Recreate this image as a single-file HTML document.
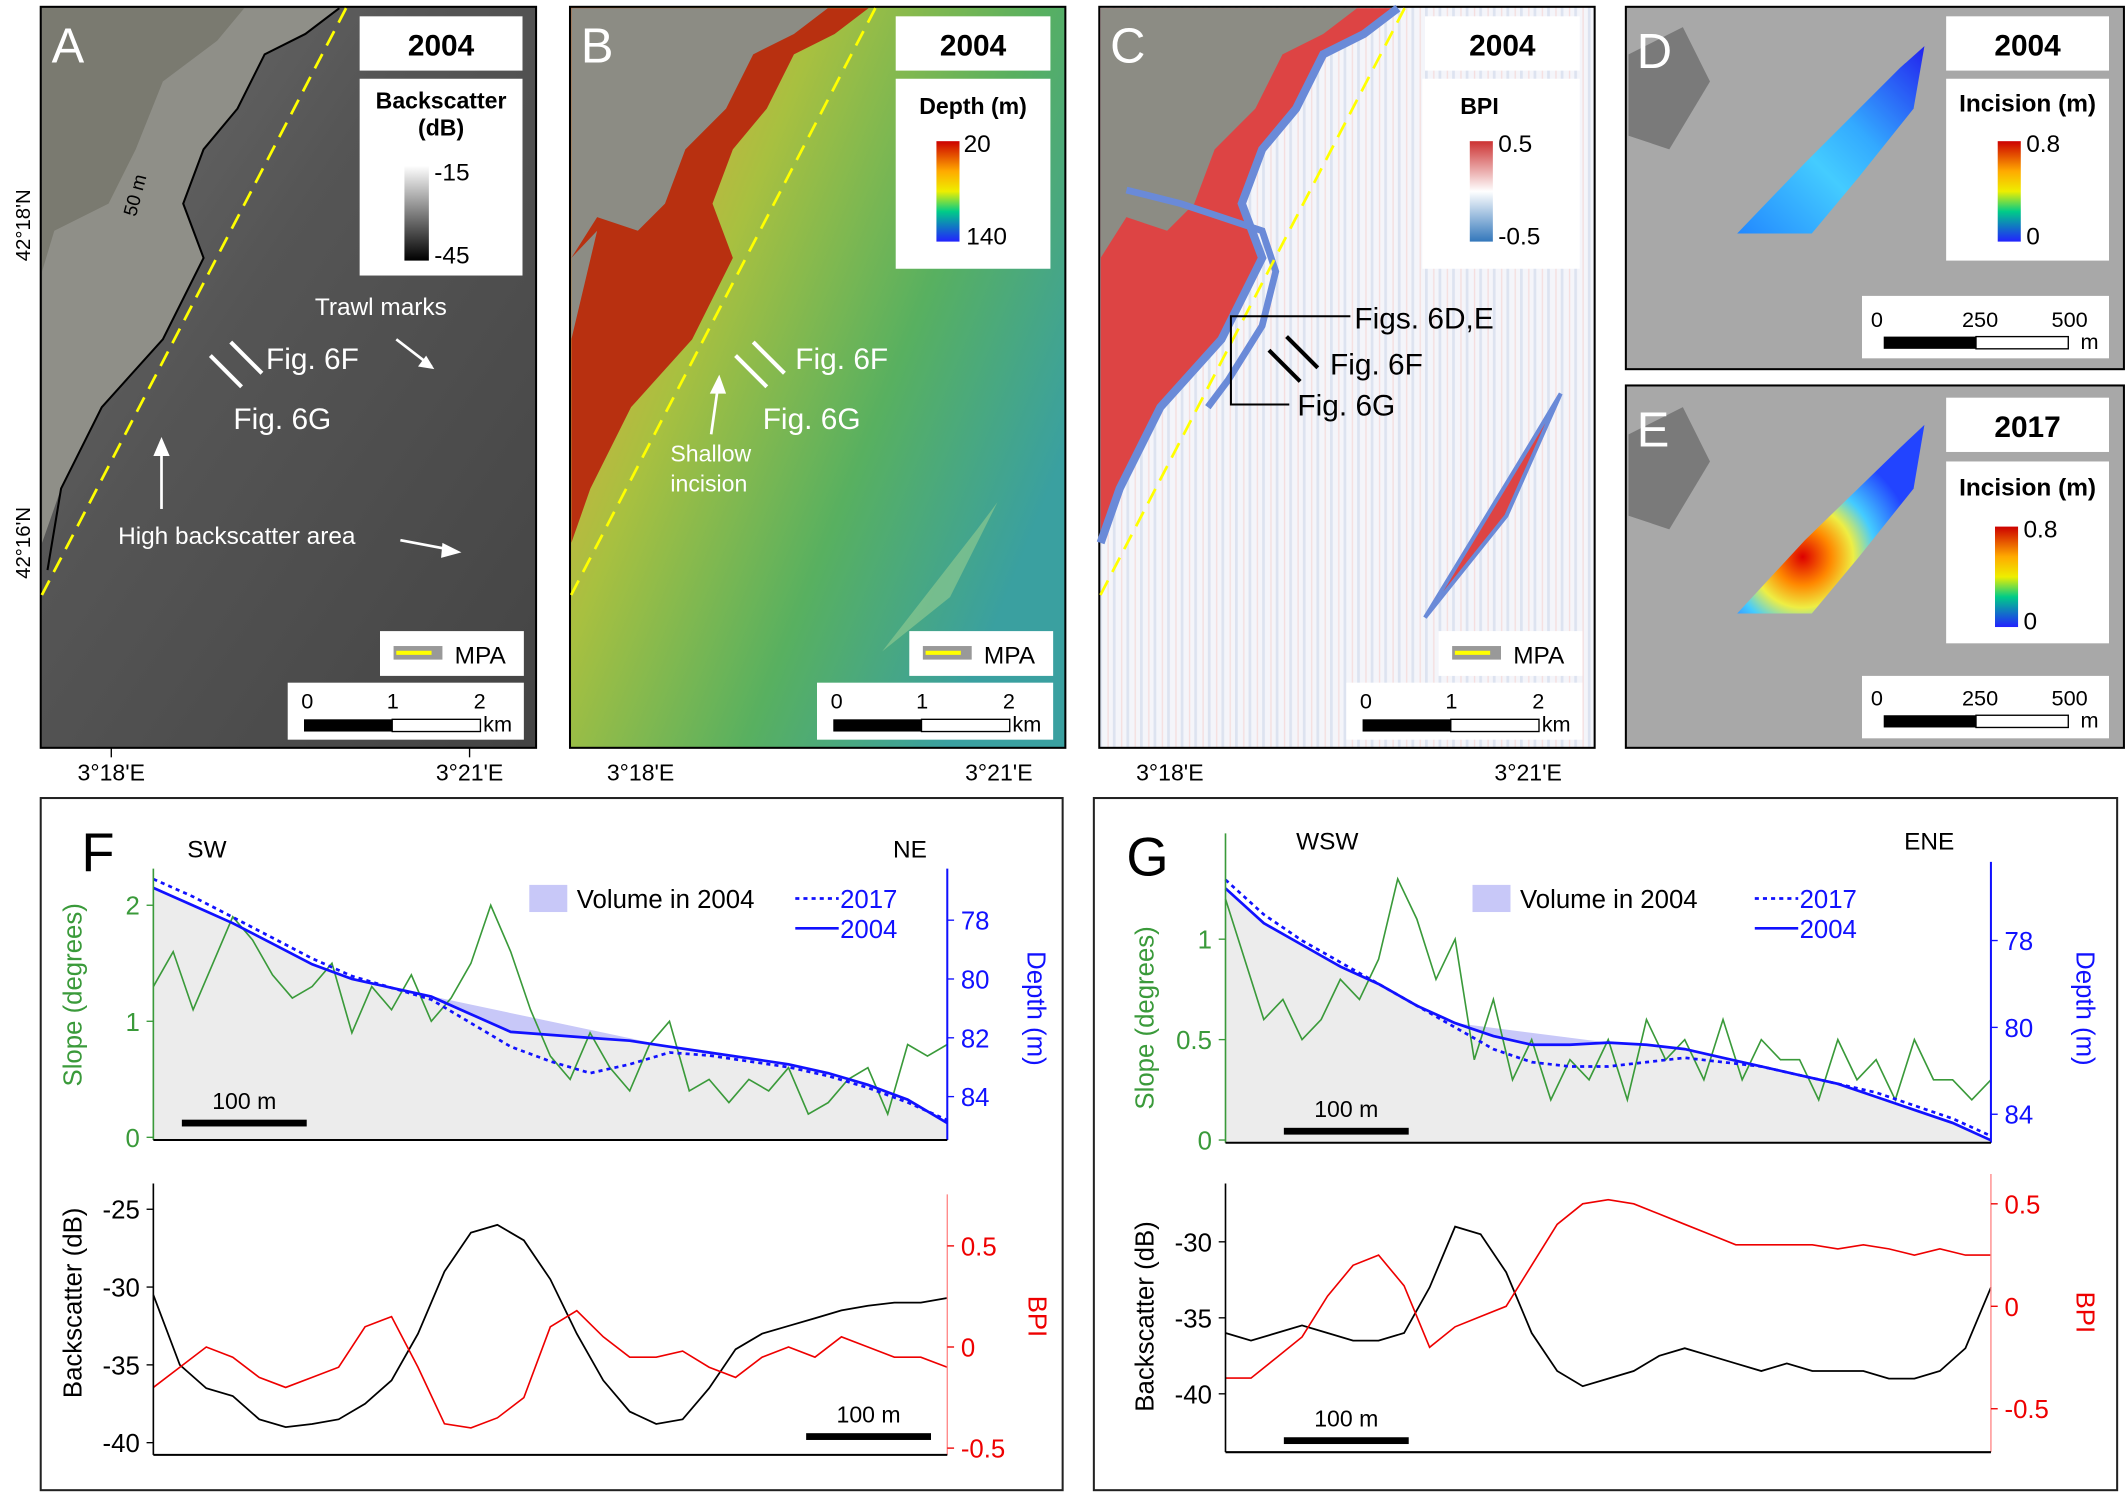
<!DOCTYPE html>
<html><head><meta charset="utf-8"><style>
html,body{margin:0;padding:0;background:#fff;}
svg{display:block;font-family:"Liberation Sans",sans-serif;}
</style></head><body>
<svg id="fig" width="2128" height="1497" viewBox="0 0 1568 1103" xmlns="http://www.w3.org/2000/svg">
<defs>
<linearGradient id="gA" x1="0" y1="0" x2="1" y2="1"><stop offset="0" stop-color="#6e6e6e"/><stop offset="0.4" stop-color="#555"/><stop offset="1" stop-color="#444"/></linearGradient>
<linearGradient id="gB" x1="0" y1="0" x2="1" y2="0.6"><stop offset="0" stop-color="#d07020"/><stop offset="0.2" stop-color="#d0b040"/><stop offset="0.38" stop-color="#a8c040"/><stop offset="0.7" stop-color="#58b060"/><stop offset="1" stop-color="#3aa0a0"/></linearGradient>
<linearGradient id="gBar" x1="0" y1="0" x2="0" y2="1"><stop offset="0" stop-color="#c00"/><stop offset="0.3" stop-color="#fa0"/><stop offset="0.5" stop-color="#ee0"/><stop offset="0.7" stop-color="#0c8"/><stop offset="1" stop-color="#22f"/></linearGradient>
<linearGradient id="gBw" x1="0" y1="0" x2="0" y2="1"><stop offset="0" stop-color="#fff"/><stop offset="1" stop-color="#000"/></linearGradient>
<linearGradient id="gBpi" x1="0" y1="0" x2="0" y2="1"><stop offset="0" stop-color="#c33"/><stop offset="0.5" stop-color="#fff"/><stop offset="1" stop-color="#37b"/></linearGradient>
<linearGradient id="gInc1" x1="0" y1="1" x2="1" y2="0"><stop offset="0" stop-color="#28f"/><stop offset="0.4" stop-color="#4cf"/><stop offset="0.6" stop-color="#3af"/><stop offset="1" stop-color="#22e"/></linearGradient>
<radialGradient id="gInc2" cx="0.35" cy="0.7" r="0.6"><stop offset="0" stop-color="#d00"/><stop offset="0.25" stop-color="#f80"/><stop offset="0.45" stop-color="#ee4"/><stop offset="0.65" stop-color="#4cf"/><stop offset="1" stop-color="#24f"/></radialGradient>
<pattern id="stripes" width="10" height="20" patternUnits="userSpaceOnUse"><rect width="10" height="20" fill="#f4f5fa"/><rect x="0" width="2" height="20" fill="#dde3f0"/><rect x="6" width="1" height="20" fill="#f5dede"/></pattern>
</defs>

<!-- Panel A -->
<g>
<rect x="30" y="5" width="365" height="546" fill="url(#gA)" stroke="#000" stroke-width="1.5"/>
<path d="M31,6 L250,6 L225,25 L195,40 L175,80 L150,110 L135,150 L150,190 L120,250 L75,300 L45,360 L31,400 Z" fill="#8f8f88"/>
<path d="M31,6 L180,6 L160,30 L120,60 L100,110 L80,150 L40,170 L31,200 Z" fill="#7a7a70"/>
<path d="M250,6 L225,25 L195,40 L175,80 L150,110 L135,150 L150,190 L120,250 L75,300 L45,360 L35,420" fill="none" stroke="#000" stroke-width="1.5"/>
<line x1="255" y1="6" x2="30" y2="440" stroke="#ff0" stroke-width="2" stroke-dasharray="12,7"/>
<text x="38" y="46" font-size="36" fill="#fff">A</text>
<rect x="265" y="12" width="120" height="40" fill="#fff"/><text x="325" y="41" font-size="22" font-weight="bold" text-anchor="middle">2004</text>
<rect x="265" y="58" width="120" height="145" fill="#fff"/>
<text x="325" y="80" font-size="17" font-weight="bold" text-anchor="middle">Backscatter</text><text x="325" y="100" font-size="17" font-weight="bold" text-anchor="middle">(dB)</text>
<rect x="298" y="122" width="18" height="70" fill="url(#gBw)"/><text x="320" y="133" font-size="18">-15</text><text x="320" y="194" font-size="18">-45</text>
<text x="232" y="232" font-size="18" fill="#fff">Trawl marks</text>
<line x1="292" y1="250" x2="318" y2="270" stroke="#fff" stroke-width="2"/><path d="M320,272 L308,270 L314,262 Z" fill="#fff"/>
<text x="196" y="272" font-size="22" fill="#fff">Fig. 6F</text><text x="172" y="316" font-size="22" fill="#fff">Fig. 6G</text>
<line x1="155" y1="262" x2="178" y2="285" stroke="#fff" stroke-width="3"/><line x1="170" y1="252" x2="193" y2="275" stroke="#fff" stroke-width="3"/>
<line x1="119" y1="375" x2="119" y2="330" stroke="#fff" stroke-width="2"/><path d="M119,322 L113,336 L125,336 Z" fill="#fff"/>
<text x="87" y="401" font-size="18" fill="#fff">High backscatter area</text>
<line x1="295" y1="398" x2="332" y2="405" stroke="#fff" stroke-width="2"/><path d="M340,407 L326,400 L325,411 Z" fill="#fff"/>
<text x="100" y="160" font-size="14" fill="#000" transform="rotate(-75 100 160)">50 m</text>
<rect x="280" y="465" width="106" height="33" fill="#fff"/><rect x="290" y="476" width="36" height="10" fill="#999"/><line x1="292" y1="481" x2="318" y2="481" stroke="#ff0" stroke-width="3"/><text x="335" y="489" font-size="18">MPA</text>
<rect x="212" y="503" width="174" height="42" fill="#fff"/><text x="222" y="522" font-size="16">0</text><text x="285" y="522" font-size="16">1</text><text x="349" y="522" font-size="16">2</text>
<rect x="224" y="530" width="65" height="9" fill="#000"/><rect x="289" y="530" width="65" height="9" fill="#fff" stroke="#000"/><text x="356" y="539" font-size="16">km</text>
<text x="82" y="575" font-size="17" text-anchor="middle">3°18'E</text><text x="346" y="575" font-size="17" text-anchor="middle">3°21'E</text>
<line x1="82" y1="551" x2="82" y2="558" stroke="#000"/><line x1="346" y1="551" x2="346" y2="558" stroke="#000"/>
<text x="22" y="178" font-size="15" text-anchor="middle" transform="rotate(-90 16 172)">42°18'N</text>
<text x="22" y="412" font-size="15" text-anchor="middle" transform="rotate(-90 16 406)">42°16'N</text>
</g>

<!-- Panel B -->
<g>
<rect x="420" y="5" width="365" height="546" fill="url(#gB)" stroke="#000" stroke-width="1.5"/>
<path d="M421,6 L640,6 L615,25 L585,40 L565,80 L540,110 L525,150 L540,190 L510,250 L465,300 L435,360 L421,400 Z" fill="#b83010"/>
<path d="M421,6 L610,6 L585,25 L555,40 L535,80 L505,110 L490,150 L470,170 L440,160 L421,190 Z" fill="#8c8c84"/>
<path d="M421,190 L440,170 L421,250 Z" fill="#8c8c84"/>
<line x1="645" y1="6" x2="420" y2="440" stroke="#ff0" stroke-width="2" stroke-dasharray="12,7"/>
<text x="428" y="46" font-size="36" fill="#fff">B</text>
<rect x="660" y="12" width="114" height="40" fill="#fff"/><text x="717" y="41" font-size="22" font-weight="bold" text-anchor="middle">2004</text>
<rect x="660" y="58" width="114" height="140" fill="#fff"/><text x="717" y="84" font-size="17" font-weight="bold" text-anchor="middle">Depth (m)</text>
<rect x="690" y="104" width="17" height="74" fill="url(#gBar)"/><text x="710" y="112" font-size="18">20</text><text x="712" y="180" font-size="18">140</text>
<text x="586" y="272" font-size="22" fill="#fff">Fig. 6F</text><text x="562" y="316" font-size="22" fill="#fff">Fig. 6G</text>
<line x1="542" y1="262" x2="565" y2="285" stroke="#fff" stroke-width="3"/><line x1="555" y1="252" x2="578" y2="275" stroke="#fff" stroke-width="3"/>
<line x1="524" y1="320" x2="529" y2="285" stroke="#fff" stroke-width="2"/><path d="M530,276 L523,290 L535,290 Z" fill="#fff"/>
<text x="494" y="340" font-size="17" fill="#fff">Shallow</text><text x="494" y="362" font-size="17" fill="#fff">incision</text>
<path d="M650,480 L720,390 L735,370 L700,440 Z" fill="#8ac890" opacity="0.7"/>
<rect x="670" y="465" width="106" height="33" fill="#fff"/><rect x="680" y="476" width="36" height="10" fill="#999"/><line x1="682" y1="481" x2="708" y2="481" stroke="#ff0" stroke-width="3"/><text x="725" y="489" font-size="18">MPA</text>
<rect x="602" y="503" width="174" height="42" fill="#fff"/><text x="612" y="522" font-size="16">0</text><text x="675" y="522" font-size="16">1</text><text x="739" y="522" font-size="16">2</text>
<rect x="614" y="530" width="65" height="9" fill="#000"/><rect x="679" y="530" width="65" height="9" fill="#fff" stroke="#000"/><text x="746" y="539" font-size="16">km</text>
<text x="472" y="575" font-size="17" text-anchor="middle">3°18'E</text><text x="736" y="575" font-size="17" text-anchor="middle">3°21'E</text>
</g>

<!-- Panel C -->
<g>
<rect x="810" y="5" width="365" height="546" fill="url(#stripes)" stroke="#000" stroke-width="1.5"/>
<path d="M811,6 L1030,6 L1005,25 L975,40 L955,80 L930,110 L915,150 L930,190 L900,250 L855,300 L825,360 L811,400 Z" fill="#d44"/>
<path d="M811,6 L1000,6 L975,25 L945,40 L925,80 L895,110 L880,150 L860,170 L830,160 L811,190 Z" fill="#8c8c84"/>
<path d="M1030,6 L1005,25 L975,40 L955,80 L930,110 L915,150 L930,190 L900,250 L855,300 L825,360 L811,400" fill="none" stroke="#6a8ad8" stroke-width="6"/>
<path d="M830,140 L870,150 L900,160 L930,170 L940,200 L930,240 L905,280 L890,300" fill="none" stroke="#6a8ad8" stroke-width="5"/>
<path d="M1050,455 L1120,340 L1150,290 L1110,380 Z" fill="#d44" stroke="#6a8ad8" stroke-width="3"/>
<line x1="1035" y1="6" x2="810" y2="440" stroke="#ff0" stroke-width="2" stroke-dasharray="12,7"/>
<text x="818" y="46" font-size="36" fill="#fff">C</text>
<rect x="1050" y="12" width="114" height="40" fill="#fff"/><text x="1107" y="41" font-size="22" font-weight="bold" text-anchor="middle">2004</text>
<rect x="1048" y="58" width="116" height="140" fill="#fff"/><text x="1076" y="84" font-size="17" font-weight="bold">BPI</text>
<rect x="1083" y="104" width="17" height="74" fill="url(#gBpi)"/><text x="1104" y="112" font-size="18">0.5</text><text x="1104" y="180" font-size="18">-0.5</text>
<path d="M995,233 L907,233 L907,298 L950,298" fill="none" stroke="#000" stroke-width="1.5"/>
<text x="998" y="242" font-size="22">Figs. 6D,E</text><text x="980" y="276" font-size="22">Fig. 6F</text><text x="956" y="306" font-size="22">Fig. 6G</text>
<line x1="935" y1="258" x2="958" y2="281" stroke="#000" stroke-width="3"/><line x1="948" y1="248" x2="971" y2="271" stroke="#000" stroke-width="3"/>
<rect x="1060" y="465" width="106" height="33" fill="#fff"/><rect x="1070" y="476" width="36" height="10" fill="#999"/><line x1="1072" y1="481" x2="1098" y2="481" stroke="#ff0" stroke-width="3"/><text x="1115" y="489" font-size="18">MPA</text>
<rect x="992" y="503" width="174" height="42" fill="#fff"/><text x="1002" y="522" font-size="16">0</text><text x="1065" y="522" font-size="16">1</text><text x="1129" y="522" font-size="16">2</text>
<rect x="1004" y="530" width="65" height="9" fill="#000"/><rect x="1069" y="530" width="65" height="9" fill="#fff" stroke="#000"/><text x="1136" y="539" font-size="16">km</text>
<text x="862" y="575" font-size="17" text-anchor="middle">3°18'E</text><text x="1126" y="575" font-size="17" text-anchor="middle">3°21'E</text>
</g>

<!-- Panel D -->
<g>
<rect x="1198" y="5" width="367" height="267" fill="#a8a8a8" stroke="#000" stroke-width="1.5"/>
<path d="M1200,40 L1240,20 L1260,60 L1230,110 L1200,100 Z" fill="#7a7a7a"/>
<path d="M1280,172 L1330,120 L1400,50 L1418,34 L1410,80 L1370,130 L1335,172 Z" fill="url(#gInc1)"/>
<text x="1206" y="50" font-size="36" fill="#fff">D</text>
<rect x="1434" y="12" width="120" height="40" fill="#fff"/><text x="1494" y="41" font-size="22" font-weight="bold" text-anchor="middle">2004</text>
<rect x="1434" y="58" width="120" height="134" fill="#fff"/><text x="1494" y="82" font-size="18" font-weight="bold" text-anchor="middle">Incision (m)</text>
<rect x="1472" y="104" width="17" height="74" fill="url(#gBar)"/><text x="1493" y="112" font-size="18">0.8</text><text x="1493" y="180" font-size="18">0</text>
<rect x="1372" y="218" width="182" height="46" fill="#fff"/><text x="1383" y="241" font-size="16" text-anchor="middle">0</text><text x="1459" y="241" font-size="16" text-anchor="middle">250</text><text x="1525" y="241" font-size="16" text-anchor="middle">500</text>
<rect x="1388" y="248" width="68" height="9" fill="#000"/><rect x="1456" y="248" width="68" height="9" fill="#fff" stroke="#000"/><text x="1533" y="257" font-size="16">m</text>
</g>

<!-- Panel E -->
<g>
<rect x="1198" y="284" width="367" height="267" fill="#a8a8a8" stroke="#000" stroke-width="1.5"/>
<path d="M1200,320 L1240,300 L1260,340 L1230,390 L1200,380 Z" fill="#7a7a7a"/>
<path d="M1280,452 L1330,398 L1400,330 L1418,313 L1410,360 L1370,410 L1335,452 Z" fill="url(#gInc2)"/>
<text x="1206" y="329" font-size="36" fill="#fff">E</text>
<rect x="1434" y="293" width="120" height="40" fill="#fff"/><text x="1494" y="322" font-size="22" font-weight="bold" text-anchor="middle">2017</text>
<rect x="1434" y="340" width="120" height="134" fill="#fff"/><text x="1494" y="365" font-size="18" font-weight="bold" text-anchor="middle">Incision (m)</text>
<rect x="1470" y="388" width="17" height="74" fill="url(#gBar)"/><text x="1491" y="396" font-size="18">0.8</text><text x="1491" y="464" font-size="18">0</text>
<rect x="1372" y="498" width="182" height="46" fill="#fff"/><text x="1383" y="520" font-size="16" text-anchor="middle">0</text><text x="1459" y="520" font-size="16" text-anchor="middle">250</text><text x="1525" y="520" font-size="16" text-anchor="middle">500</text>
<rect x="1388" y="527" width="68" height="9" fill="#000"/><rect x="1456" y="527" width="68" height="9" fill="#fff" stroke="#000"/><text x="1533" y="536" font-size="16">m</text>
</g>

<rect x="30" y="588" width="753" height="510" fill="none" stroke="#222" stroke-width="1.5"/>
<rect x="806" y="588" width="754" height="510" fill="none" stroke="#222" stroke-width="1.5"/>
<g id="charts"></g>
</svg>
<script>
// Panel F data
const fDepth2004=[76.9,77.5,78.1,78.8,79.5,80.0,80.3,80.6,81.2,81.8,81.9,82.0,82.1,82.3,82.5,82.7,82.9,83.2,83.6,84.1,84.9];
const fDepth2017=[76.6,77.2,77.9,78.6,79.3,79.9,80.3,80.7,81.5,82.3,82.8,83.2,82.9,82.5,82.6,82.8,83.0,83.3,83.7,84.2,84.8];
const fSlope=[1.3,1.6,1.1,1.5,1.9,1.7,1.4,1.2,1.3,1.5,0.9,1.3,1.1,1.4,1.0,1.2,1.5,2.0,1.6,1.1,0.7,0.5,0.9,0.6,0.4,0.8,1.0,0.4,0.5,0.3,0.5,0.4,0.6,0.2,0.3,0.5,0.6,0.2,0.8,0.7,0.8];
const fBack=[-30.5,-35,-36.5,-37,-38.5,-39,-38.8,-38.5,-37.5,-36,-33,-29,-26.5,-26,-27,-29.5,-33,-36,-38,-38.8,-38.5,-36.5,-34,-33,-32.5,-32,-31.5,-31.2,-31,-31,-30.7];
const fBpi=[-0.2,-0.1,0.0,-0.05,-0.15,-0.2,-0.15,-0.1,0.1,0.15,-0.1,-0.38,-0.4,-0.35,-0.25,0.1,0.18,0.05,-0.05,-0.05,-0.02,-0.1,-0.15,-0.05,0.0,-0.05,0.05,0.0,-0.05,-0.05,-0.1];
const fSlopeTicks=[0,1,2];
const fDepthTicks=[78,80,82,84];
const fBackTicks=[-25,-30,-35,-40];
const fBpiTicks=[0.5,0,-0.5];
// Panel G data
const gDepth2004=[76.8,77.6,78.1,78.6,79.0,79.5,79.9,80.2,80.4,80.4,80.35,80.4,80.5,80.7,80.9,81.1,81.3,81.6,81.9,82.2,82.6];
const gDepth2017=[76.6,77.4,78.0,78.5,79.0,79.5,80.0,80.5,80.8,80.9,80.9,80.8,80.7,80.8,80.9,81.1,81.3,81.5,81.8,82.1,82.5];
const gSlope=[1.2,0.9,0.6,0.7,0.5,0.6,0.8,0.7,0.9,1.3,1.1,0.8,1.0,0.4,0.7,0.3,0.5,0.2,0.4,0.3,0.5,0.2,0.6,0.4,0.5,0.3,0.6,0.3,0.5,0.4,0.4,0.2,0.5,0.3,0.4,0.2,0.5,0.3,0.3,0.2,0.3];
const gBack=[-36,-36.5,-36,-35.5,-36,-36.5,-36.5,-36,-33,-29,-29.5,-32,-36,-38.5,-39.5,-39,-38.5,-37.5,-37,-37.5,-38,-38.5,-38,-38.5,-38.5,-38.5,-39,-39,-38.5,-37,-33];
const gBpi=[-0.35,-0.35,-0.25,-0.15,0.05,0.2,0.25,0.1,-0.2,-0.1,-0.05,0.0,0.2,0.4,0.5,0.52,0.5,0.45,0.4,0.35,0.3,0.3,0.3,0.3,0.28,0.3,0.28,0.25,0.28,0.25,0.25];
const gSlopeTicks=[0,0.5,1];
const gDepthTicks=[78,80,82];
const gDepthLabels=["78","80","84"];
const gBackTicks=[-30,-35,-40];
const gBpiTicks=[0.5,0,-0.5];

const NS="http://www.w3.org/2000/svg";
const root=document.getElementById('charts');
function mk(tag,attrs,parent){const e=document.createElementNS(NS,tag);for(const k in attrs)e.setAttribute(k,attrs[k]);(parent||root).appendChild(e);return e;}
function lin(d0,d1,r0,r1){return v=>r0+(v-d0)*(r1-r0)/(d1-d0);}
function pts(arr,x0,x1,ys){return arr.map((v,i)=>[x0+i*(x1-x0)/(arr.length-1),ys(v)]);}
function pathD(p){return p.map((q,i)=>(i?'L':'M')+q[0].toFixed(1)+','+q[1].toFixed(1)).join('');}
function txt(x,y,s,size,fill,anchor,rot){const t=mk('text',{x:x,y:y,'font-size':size,fill:fill||'#000','text-anchor':anchor||'start'});if(rot)t.setAttribute('transform','rotate('+rot+' '+x+' '+y+')');t.textContent=s;return t;}

function drawTop(o){
  const g=mk('g',{});
  
  
  const sy=lin(o.s0,o.s1,o.sy0,o.sy1), dy=lin(o.d0,o.d1,o.dy0,o.dy1);
  const p04=pts(o.d04,o.x0,o.x1,dy), p17=pts(o.d17,o.x0,o.x1,dy);
  const fill=mk('path',{d:pathD(p04)+'L'+o.x1+','+o.base+'L'+o.x0+','+o.base+'Z',fill:'#ececec'},g);
  
  
  const a=o.va,b=o.vb,seg=p04.slice(a,b+1);
  const vol=mk('path',{d:'M'+seg[0][0]+','+seg[0][1]+'L'+seg[seg.length-1][0]+','+seg[seg.length-1][1]+seg.slice().reverse().map(q=>'L'+q[0]+','+q[1]).join('')+'Z',fill:'#c8c8f8'},g);
  
  
  const sl=mk('path',{d:pathD(pts(o.slope,o.x0,o.x1,sy)),fill:'none',stroke:'#3a9a3a','stroke-width':1.2},g);
  
  
  const l17=mk('path',{d:pathD(p17),fill:'none',stroke:'#11f','stroke-width':2,'stroke-dasharray':'3,3'},g);
  
  
  const l04=mk('path',{d:pathD(p04),fill:'none',stroke:'#11f','stroke-width':2},g);
  
  
  mk('line',{x1:o.x0,y1:o.axTop,x2:o.x0,y2:o.base,stroke:'#3a9a3a','stroke-width':1.2},g);
  mk('line',{x1:o.x1,y1:o.axTopR,x2:o.x1,y2:o.base,stroke:'#11f','stroke-width':1.5},g);
  mk('line',{x1:o.x0,y1:o.base,x2:o.x1,y2:o.base,stroke:'#000','stroke-width':1.5},g);
  o.sTicks.forEach(v=>{mk('line',{x1:o.x0-5,y1:sy(v),x2:o.x0,y2:sy(v),stroke:'#3a9a3a'},g);txt(o.x0-10,sy(v)+7,String(v),19,'#3a9a3a','end');});
  o.dTicks.forEach((v,i)=>{mk('line',{x1:o.x1,y1:dy(v),x2:o.x1+5,y2:dy(v),stroke:'#11f'},g);txt(o.x1+10,dy(v)+7,o.dLabels?o.dLabels[i]:String(v),19,'#11f');});
  txt(o.slx,o.sly,'Slope (degrees)',19,'#3a9a3a','middle',-90);
  txt(o.dlx,o.dly,'Depth (m)',19,'#11f','middle',90);
  mk('rect',{x:o.sbx,y:o.sby,width:92,height:5,fill:'#000'},g);
  txt(o.sbx+46,o.sby-8,'100 m',17,'#000','middle');
  mk('rect',{x:o.lgx,y:o.lgy-14,width:28,height:20,fill:'#c8c8f8'},g);
  txt(o.lgx+35,o.lgy+3,'Volume in 2004',19);
  mk('line',{x1:o.lgx2,y1:o.lgy-4,x2:o.lgx2+32,y2:o.lgy-4,stroke:'#11f','stroke-width':2,'stroke-dasharray':'3,3'},g);
  txt(o.lgx2+33,o.lgy+3,'2017',19,'#11f');
  mk('line',{x1:o.lgx2,y1:o.lgy+18,x2:o.lgx2+32,y2:o.lgy+18,stroke:'#11f','stroke-width':2},g);
  txt(o.lgx2+33,o.lgy+25,'2004',19,'#11f');
}
function drawBot(o){
  const g=mk('g',{});
  
  
  const by=lin(o.b0,o.b1,o.by0,o.by1), py=lin(o.p0,o.p1,o.py0,o.py1);
  const bl=mk('path',{d:pathD(pts(o.back,o.x0,o.x1,by)),fill:'none',stroke:'#000','stroke-width':1.3},g);
  
  
  const pl=mk('path',{d:pathD(pts(o.bpi,o.x0,o.x1,py)),fill:'none',stroke:'#e00','stroke-width':1.2},g);
  
  
  mk('line',{x1:o.x0,y1:o.top,x2:o.x0,y2:o.base,stroke:'#000','stroke-width':1.2},g);
  mk('line',{x1:o.x1,y1:o.topR,x2:o.x1,y2:o.base,stroke:'#f88','stroke-width':1},g);
  mk('line',{x1:o.x0,y1:o.base,x2:o.x1,y2:o.base,stroke:'#000','stroke-width':1.5},g);
  o.bTicks.forEach(v=>{mk('line',{x1:o.x0-5,y1:by(v),x2:o.x0,y2:by(v),stroke:'#000'},g);txt(o.x0-10,by(v)+7,String(v),19,'#000','end');});
  o.pTicks.forEach(v=>{mk('line',{x1:o.x1,y1:py(v),x2:o.x1+5,y2:py(v),stroke:'#e00'},g);txt(o.x1+10,py(v)+7,String(v),19,'#e00');});
  txt(o.blx,o.bly,'Backscatter (dB)',19,'#000','middle',-90);
  txt(o.plx,o.ply,'BPI',19,'#e00','middle',90);
  mk('rect',{x:o.sbx,y:o.sby,width:92,height:5,fill:'#000'},g);
  txt(o.sbx+46,o.sby-8,'100 m',17,'#000','middle');
}
drawTop({name:'f',x0:113,x1:698,base:840,axTop:640,axTopR:640,s0:0,s1:2,sy0:838,sy1:667,d0:78,d1:84,dy0:678,dy1:808,
  d04:fDepth2004,d17:fDepth2017,slope:fSlope,sTicks:fSlopeTicks,dTicks:fDepthTicks,va:6,vb:13,
  slx:60,sly:733,dlx:757,dly:743,sbx:134,sby:825,lgx:390,lgy:666,lgx2:586});
drawBot({name:'f',x0:113,x1:698,base:1072,top:872,topR:880,b0:-25,b1:-40,by0:891,by1:1063,p0:0.5,p1:-0.5,py0:918,py1:1067,
  back:fBack,bpi:fBpi,bTicks:fBackTicks,pTicks:fBpiTicks,blx:60,bly:960,plx:758,ply:970,sbx:594,sby:1056});
drawTop({name:'g',x0:903,x1:1467,base:842,axTop:614,axTopR:635,s0:0,s1:1,sy0:840,sy1:692,d0:78,d1:80,dy0:693,dy1:757,
  d04:gDepth2004,d17:gDepth2017,slope:gSlope,sTicks:gSlopeTicks,dTicks:gDepthTicks,dLabels:gDepthLabels,va:6,vb:10,
  slx:850,sly:750,dlx:1530,dly:743,sbx:946,sby:831,lgx:1085,lgy:666,lgx2:1293});
drawBot({name:'g',x0:903,x1:1467,base:1070,top:872,topR:865,b0:-30,b1:-40,by0:915,by1:1027,p0:0.5,p1:-0.5,py0:887,py1:1038,
  back:gBack,bpi:gBpi,bTicks:gBackTicks,pTicks:gBpiTicks,blx:850,bly:970,plx:1530,ply:967,sbx:946,sby:1059});
txt(60,642,'F',40);txt(138,632,'SW',18);txt(658,632,'NE',18);
txt(830,645,'G',40);txt(955,626,'WSW',18);txt(1403,626,'ENE',18);
</script>
</body></html>
